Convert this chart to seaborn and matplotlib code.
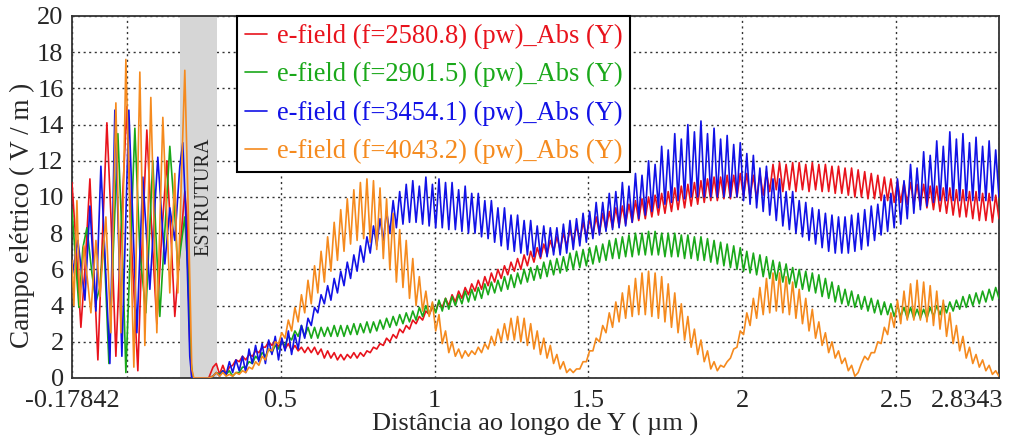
import numpy as np
import pandas as pd
import matplotlib
matplotlib.use("Agg")
import matplotlib.pyplot as plt
import matplotlib.transforms as mtransforms
import seaborn as sns

labels = ["e-field (f=2580.8) (pw)_Abs (Y)", "e-field (f=2901.5) (pw)_Abs (Y)",
          "e-field (f=3454.1) (pw)_Abs (Y)", "e-field (f=4043.2) (pw)_Abs (Y)"]
colors = ["#e8131c", "#1aa81a", "#1212e6", "#f58a1e"]
xtick_vals = [-0.17842, 0, 0.5, 1, 1.5, 2, 2.5, 2.8343]
xtick_labels = ["-0.17842", "", "0.5", "1", "1.5", "2", "2.5", "2.8343"]

# ---- region before the structure (x, y) ----
red_left_x = [-0.17842, -0.1656, -0.1494, -0.1364, -0.1201, -0.1071, -0.0942, -0.0812, -0.0649, -0.0519,
              -0.0357, -0.0195, 0.0, 0.0162, 0.0357, 0.0487, 0.0649, 0.0812, 0.0974, 0.1136,
              0.1299, 0.1429, 0.1558, 0.1721, 0.1883, 0.1948, 0.2045, 0.2110]
red_left_y = [10.8, 7.5, 2.8, 6.0, 11.0, 6.0, 1.0, 7.0, 14.1, 9.0,
              1.2, 8.0, 15.0, 7.0, 0.4, 7.0, 13.7, 8.0, 3.0, 8.0,
              12.0, 8.0, 3.4, 7.0, 10.3, 9.0, 2.0, 0.0]
green_left_x = [-0.17842, -0.1688, -0.1558, -0.1429, -0.1299, -0.1136, -0.1006, -0.0877, -0.0747, -0.0584,
                -0.0292, -0.0162, -0.0032, 0.0260, 0.0422, 0.0617, 0.0844, 0.0942, 0.1071, 0.1396,
                0.1558, 0.1656, 0.1883, 0.1981, 0.2078, 0.2143]
green_left_y = [9.3, 7.0, 3.9, 7.2, 8.3, 5.8, 4.2, 5.0, 7.6, 0.8,
                13.5, 8.0, 0.3, 13.8, 7.0, 3.6, 12.0, 8.0, 3.4, 12.8,
                9.0, 6.0, 8.9, 6.0, 1.0, 0.0]
blue_left_x = [-0.17842, -0.1591, -0.1364, -0.1201, -0.1006, -0.0844, -0.0552, -0.0390, -0.0162, 0.0065,
               0.0325, 0.0519, 0.0747, 0.1006, 0.1234, 0.1396, 0.1558, 0.1721, 0.1818, 0.1916,
               0.2045, 0.2110]
blue_left_y = [5.6, 7.6, 4.3, 9.5, 3.7, 11.7, 0.8, 14.8, 1.2, 14.8,
               2.5, 11.1, 4.9, 12.2, 6.3, 9.4, 7.6, 11.7, 13.0, 9.0,
               1.2, 0.0]
orange_left_x = [-0.17842, -0.1721, -0.1623, -0.1526, -0.1396, -0.1169, -0.1006, -0.0877, -0.0682, -0.0519,
                 -0.0357, -0.0195, -0.0032, 0.0227, 0.0422, 0.0584, 0.0779, 0.0974, 0.1169, 0.1396,
                 0.1558, 0.1656, 0.1883, 0.2013, 0.2110, 0.2175]
orange_left_y = [6.5, 4.0, 9.8, 4.0, 7.3, 3.6, 7.6, 4.5, 8.9, 2.5,
                 15.2, 2.5, 17.6, 0.6, 16.9, 1.8, 15.5, 2.5, 14.4, 4.7,
                 11.3, 4.7, 17.0, 8.0, 0.5, 0.0]

# ---- region after the structure: alternating troughs / peaks from x=0.28 to 2.8343 ----
red_lo = [0.6, 0.2, 0.2, 0.7, 0.9, 1.0, 1.2, 1.4, 1.7, 1.8,
          1.7, 1.6, 1.5, 1.5, 1.4, 1.4, 1.3, 1.1, 1.1, 1.0,
          1.0, 1.1, 1.1, 1.2, 1.4, 1.6, 1.8, 2.0, 2.2, 2.5,
          2.7, 3.0, 3.2, 3.5, 3.7, 3.9, 4.0, 4.2, 4.4, 4.6,
          4.8, 4.9, 5.1, 5.3, 5.5, 5.7, 5.9, 6.0, 6.2, 6.4,
          6.6, 6.8, 7.0, 7.1, 7.3, 7.5, 7.6, 7.8, 7.9, 8.0,
          8.2, 8.3, 8.4, 8.5, 8.6, 8.7, 8.8, 8.9, 9.0, 9.1,
          9.2, 9.3, 9.4, 9.5, 9.6, 9.7, 9.8, 9.8, 9.9, 9.9,
          10.0, 10.0, 10.0, 9.9, 10.1, 10.3, 10.4, 10.3, 10.4, 10.3,
          10.4, 10.3, 10.4, 10.3, 10.3, 10.2, 10.2, 10.1, 10.0, 10.0,
          9.9, 9.9, 9.8, 9.8, 9.7, 9.7, 9.6, 9.6, 9.5, 9.4,
          9.3, 9.2, 9.1, 9.0, 8.9, 8.9, 8.8, 8.7, 8.7, 8.6,
          8.8]
red_hi = [0.8, 0.7, 0.6, 1.0, 1.2, 1.3, 1.5, 1.7, 2.0, 2.1,
          2.1, 1.9, 1.8, 1.7, 1.7, 1.7, 1.6, 1.5, 1.4, 1.3,
          1.3, 1.4, 1.4, 1.5, 1.7, 1.9, 2.2, 2.4, 2.7, 2.9,
          3.2, 3.4, 3.7, 3.9, 4.2, 4.4, 4.6, 4.8, 5.0, 5.2,
          5.4, 5.6, 5.8, 6.0, 6.2, 6.4, 6.6, 6.8, 7.0, 7.2,
          7.4, 7.6, 7.8, 8.0, 8.2, 8.4, 8.6, 8.8, 8.9, 9.1,
          9.2, 9.4, 9.5, 9.6, 9.8, 9.9, 10.0, 10.1, 10.2, 10.3,
          10.5, 10.6, 10.7, 10.8, 10.9, 11.0, 11.1, 11.1, 11.2, 11.2,
          11.3, 11.3, 11.2, 11.3, 11.4, 11.8, 11.9, 11.8, 11.9, 11.9,
          11.8, 11.9, 11.8, 11.8, 11.7, 11.7, 11.6, 11.6, 11.5, 11.4,
          11.3, 11.2, 11.1, 11.0, 10.9, 10.8, 10.8, 10.7, 10.7, 10.6,
          10.6, 10.5, 10.5, 10.4, 10.4, 10.3, 10.3, 10.2, 10.2, 10.1]
green_lo = [0.1, 0.2, 0.2, 0.1, 0.3, 0.6, 0.8, 1.0, 1.2, 1.4,
            1.6, 1.8, 2.1, 2.3, 2.3, 2.2, 2.2, 2.3, 2.3, 2.3,
            2.3, 2.4, 2.4, 2.5, 2.5, 2.6, 2.7, 2.8, 2.9, 3.0,
            3.1, 3.2, 3.4, 3.5, 3.6, 3.7, 3.8, 4.0, 4.1, 4.2,
            4.3, 4.4, 4.6, 4.7, 4.8, 4.9, 5.0, 5.2, 5.3, 5.4,
            5.5, 5.6, 5.7, 5.8, 5.9, 6.0, 6.1, 6.2, 6.3, 6.4,
            6.5, 6.6, 6.6, 6.7, 6.7, 6.8, 6.8, 6.8, 6.8, 6.7,
            6.7, 6.7, 6.6, 6.6, 6.5, 6.5, 6.4, 6.3, 6.2, 6.1,
            6.0, 5.9, 5.8, 5.7, 5.6, 5.5, 5.4, 5.3, 5.2, 5.0,
            4.9, 4.8, 4.7, 4.5, 4.4, 4.2, 4.1, 4.0, 3.9, 3.8,
            3.7, 3.6, 3.5, 3.5, 3.4, 3.4, 3.3, 3.3, 3.3, 3.3,
            3.4, 3.5, 3.6, 3.7, 3.8, 3.9, 4.0, 4.1, 4.2, 4.3,
            4.4]
green_hi = [0.3, 0.4, 0.4, 0.3, 0.6, 0.9, 1.2, 1.4, 1.6, 1.8,
            2.0, 2.3, 2.6, 2.9, 2.8, 2.8, 2.8, 2.8, 2.9, 2.9,
            2.9, 3.0, 3.0, 3.1, 3.1, 3.2, 3.3, 3.4, 3.5, 3.6,
            3.7, 3.9, 4.0, 4.1, 4.3, 4.4, 4.5, 4.6, 4.8, 4.9,
            5.0, 5.2, 5.3, 5.4, 5.6, 5.7, 5.8, 6.0, 6.1, 6.2,
            6.4, 6.5, 6.6, 6.7, 6.9, 7.0, 7.1, 7.2, 7.3, 7.4,
            7.6, 7.7, 7.8, 7.9, 8.0, 8.0, 8.1, 8.1, 8.0, 8.0,
            8.0, 7.9, 7.9, 7.8, 7.8, 7.7, 7.6, 7.5, 7.4, 7.3,
            7.2, 7.0, 6.9, 6.8, 6.7, 6.5, 6.4, 6.3, 6.1, 6.0,
            5.9, 5.8, 5.7, 5.5, 5.3, 5.1, 4.9, 4.8, 4.6, 4.5,
            4.4, 4.3, 4.2, 4.1, 4.0, 3.9, 3.9, 3.8, 3.8, 3.9,
            4.0, 4.1, 4.2, 4.3, 4.5, 4.6, 4.7, 4.8, 4.9, 5.0]
blue_lo = [0.1, 0.1, 0.2, 0.3, 0.4, 0.3, 0.8, 0.9, 0.8, 1.3,
           1.0, 1.5, 1.3, 1.6, 2.2, 2.9, 3.6, 4.1, 4.3, 4.7,
           5.1, 5.5, 5.9, 6.4, 6.9, 7.3, 7.6, 8.0, 8.3, 8.5,
           8.6, 8.6, 8.5, 8.4, 8.3, 8.3, 8.2, 8.2, 8.1, 8.0,
           8.0, 7.8, 7.7, 7.5, 7.3, 7.1, 7.0, 6.9, 6.8, 6.7,
           6.7, 6.7, 6.8, 6.8, 6.9, 7.1, 7.3, 7.5, 7.7, 7.9,
           8.1, 8.2, 8.3, 8.4, 8.6, 8.8, 9.0, 9.2, 9.4, 9.6,
           9.7, 9.8, 9.9, 10.0, 10.0, 10.0, 10.0, 10.0, 10.0, 10.0,
           10.0, 9.8, 9.6, 9.4, 9.2, 9.0, 8.7, 8.4, 8.2, 8.0,
           7.8, 7.6, 7.4, 7.2, 7.0, 6.9, 6.9, 6.9, 7.0, 7.1,
           7.3, 7.6, 7.9, 8.1, 8.3, 8.5, 8.8, 9.1, 9.3, 9.5,
           9.7, 9.8, 9.8, 9.8, 9.8, 9.8, 9.8, 9.8, 9.8, 9.8,
           10.0]
blue_hi = [0.3, 0.4, 0.9, 1.0, 1.2, 1.6, 1.8, 1.9, 2.1, 2.3,
           2.2, 2.6, 2.4, 2.9, 3.3, 3.9, 4.6, 5.1, 5.5, 5.9,
           6.4, 6.8, 7.3, 7.8, 8.4, 8.8, 9.2, 9.8, 10.3, 10.7,
           10.9, 10.6, 11.1, 10.7, 11.0, 10.8, 10.8, 10.4, 10.6, 10.2,
           10.2, 9.8, 9.8, 9.4, 9.4, 9.0, 9.0, 8.7, 8.7, 8.4,
           8.4, 8.3, 8.3, 8.5, 8.7, 8.8, 9.1, 9.2, 9.7, 9.7,
           10.2, 10.3, 10.8, 10.6, 11.3, 11.2, 12.0, 11.8, 12.8, 12.6,
           13.5, 13.2, 14.0, 13.6, 14.2, 13.5, 13.8, 13.2, 13.4, 12.9,
           13.0, 12.4, 12.3, 11.6, 11.7, 11.0, 11.0, 10.3, 10.3, 9.8,
           9.7, 9.4, 9.3, 9.1, 9.0, 8.9, 8.9, 9.0, 9.1, 9.3,
           9.5, 9.6, 10.1, 10.2, 11.0, 10.9, 11.8, 11.6, 12.5, 12.3,
           13.1, 12.8, 13.6, 13.2, 13.5, 13.0, 13.3, 12.8, 13.1, 12.6]
orange_lo = [0.1, 0.1, 0.1, 0.1, 0.2, 0.3, 0.5, 0.7, 1.0, 1.5,
             1.9, 2.2, 2.6, 3.1, 3.6, 4.1, 4.7, 5.3, 5.9, 6.5,
             7.0, 7.4, 7.6, 7.7, 7.5, 7.1, 6.6, 6.0, 5.3, 5.0,
             4.4, 4.0, 3.7, 3.4, 2.6, 1.9, 1.4, 1.2, 1.1, 1.2,
             1.3, 1.4, 1.6, 1.8, 2.0, 2.1, 2.1, 2.0, 1.8, 1.6,
             1.3, 1.1, 0.8, 0.5, 0.3, 0.3, 0.5, 0.9, 1.5, 2.0,
             2.5, 2.8, 3.1, 3.3, 3.4, 3.5, 3.5, 3.4, 3.3, 3.1,
             2.8, 2.5, 2.1, 1.7, 1.3, 0.9, 0.5, 0.4, 0.6, 1.1,
             1.7, 2.4, 2.9, 3.3, 3.5, 3.6, 3.7, 3.6, 3.5, 3.3,
             3.0, 2.6, 2.2, 1.8, 1.4, 1.1, 0.8, 0.4, 0.1, 0.8,
             1.0, 1.4, 1.9, 2.4, 2.8, 3.0, 3.2, 3.2, 3.2, 3.1,
             2.9, 2.7, 2.3, 1.9, 1.5, 1.1, 0.8, 0.6, 0.4, 0.2,
             0.1]
orange_hi = [0.3, 0.3, 0.2, 0.3, 0.4, 0.6, 0.9, 1.2, 1.6, 2.0,
             2.5, 3.2, 3.9, 4.6, 5.4, 6.2, 7.0, 7.8, 8.6, 9.3,
             9.9, 10.4, 10.8, 11.0, 10.9, 10.5, 9.9, 9.1, 8.2, 7.6,
             6.6, 5.6, 4.8, 4.2, 3.5, 2.6, 2.0, 1.6, 1.5, 1.5,
             1.7, 1.9, 2.3, 2.7, 3.0, 3.3, 3.4, 3.3, 3.0, 2.6,
             2.2, 1.8, 1.3, 0.9, 0.5, 0.5, 0.9, 1.5, 2.2, 2.9,
             3.6, 4.2, 4.7, 5.1, 5.5, 5.8, 5.9, 5.8, 5.6, 5.2,
             4.7, 4.1, 3.4, 2.7, 2.1, 1.5, 0.9, 0.7, 0.9, 1.6,
             2.6, 3.6, 4.4, 5.0, 5.5, 5.8, 5.8, 5.6, 5.3, 4.9,
             4.4, 3.8, 3.1, 2.5, 2.0, 1.5, 1.1, 0.7, 0.3, 1.2,
             1.4, 2.0, 2.8, 3.6, 4.3, 4.8, 5.2, 5.4, 5.3, 5.1,
             4.8, 4.3, 3.6, 2.9, 2.3, 1.7, 1.3, 1.0, 0.7, 0.4]

x_right = np.linspace(0.28, 2.8343, 241)
gap_x, gap_y = [0.266], [0.0]

left = [(red_left_x, red_left_y), (green_left_x, green_left_y),
        (blue_left_x, blue_left_y), (orange_left_x, orange_left_y)]
right = [(red_lo, red_hi), (green_lo, green_hi), (blue_lo, blue_hi), (orange_lo, orange_hi)]

frames = []
for lab, (lx, ly), (lo, hi) in zip(labels, left, right):
    yr = np.empty(len(x_right))
    yr[0::2] = lo
    yr[1::2] = hi
    xs = np.concatenate([lx, gap_x, x_right])
    ys = np.concatenate([ly, gap_y, yr])
    frames.append(pd.DataFrame({"x": xs, "y": ys, "series": lab}))
df = pd.concat(frames, ignore_index=True)

sns.set_style("white")
plt.rcParams["font.family"] = ["Liberation Serif", "DejaVu Serif"]

fig = plt.figure(figsize=(10.15, 4.38), dpi=100)
ax = fig.add_axes([0.0709, 0.137, 0.9842 - 0.0709, 0.9635 - 0.137])

ax.axvspan(0.172, 0.292, color="#d6d6d6", lw=0, zorder=1)
sns.lineplot(data=df, x="x", y="y", hue="series", hue_order=labels, palette=colors,
             sort=False, estimator=None, units="series", lw=1.2, ax=ax, zorder=3)

ax.text(0.25, 10.0, "ESTRUTURA", rotation=90, ha="center", va="center",
        fontsize=14.5, color="#222222", zorder=4)

ax.set_xlim(-0.17842, 2.8343)
ax.set_ylim(0, 20)
ax.set_yticks(np.arange(0, 21, 2))
ax.set_xticks(xtick_vals)
ax.set_xticklabels(xtick_labels)
ax.tick_params(axis="both", labelsize=19, length=3, width=1, direction="out",
               color="#333333")
ax.tick_params(axis="x", pad=6)
ax.tick_params(axis="y", pad=3)
ax.grid(True, linestyle=(0, (1.5, 2.5)), color="#333333", linewidth=1.0)
ax.set_axisbelow(True)
for s in ax.spines.values():
    s.set_color("#333333")
    s.set_linewidth(1.3)
for t in ax.get_yticklabels():
    t.set_verticalalignment("center_baseline")

# last tick label sits flush with the right end of the axis
last = ax.get_xticklabels()[-1]
last.set_horizontalalignment("right")
last.set_transform(last.get_transform() +
                   mtransforms.ScaledTranslation(4 / 100, 0, fig.dpi_scale_trans))

ax.set_xlabel("Distância ao longo de Y ( µm )", fontsize=19, labelpad=0.5)
ax.set_ylabel("Campo elétrico ( V / m )", fontsize=19.5)
ax.yaxis.set_label_coords(-0.040, 0.45)

handles, labs = ax.get_legend_handles_labels()
leg = ax.legend(handles, labs, loc="upper left", bbox_to_anchor=(0.178, 1.0),
                borderaxespad=0, frameon=True, fancybox=False, framealpha=1,
                edgecolor="black", fontsize=19.1, handlelength=0.85, handletextpad=0.35,
                borderpad=0.3, labelspacing=0.5)
leg.get_frame().set_linewidth(1.5)
for t, c in zip(leg.get_texts(), colors):
    t.set_color(c)
for h in leg.get_lines():
    h.set_linewidth(1.2)

fig.savefig("out.png", dpi=100)
